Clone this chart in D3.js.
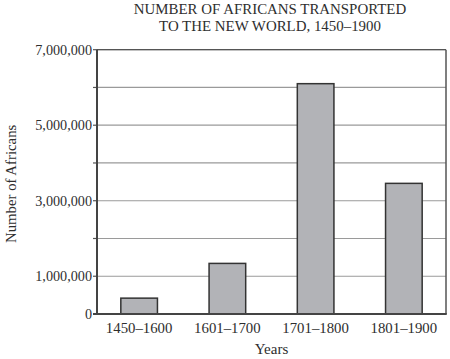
<!DOCTYPE html>
<html><head><meta charset="utf-8">
<script src="https://cdn.jsdelivr.net/npm/d3@7"></script>
<style>body{margin:0;background:#fff}svg{display:block}text{font-family:"Liberation Serif","Times New Roman",serif;fill:#2e2e2e}</style>
</head><body>
<script>
const categories = ["1450\u20131600","1601\u20131700","1701\u20131800","1801\u20131900"];
const values = [420000, 1340000, 6100000, 3460000];
const tickValues = [0,1000000,3000000,5000000,7000000];
const gridValues = [1000000,2000000,3000000,4000000,5000000,6000000,7000000];
const titleLines = ["NUMBER OF AFRICANS TRANSPORTED","TO THE NEW WORLD, 1450\u20131900"];

const W=450,H=359, L=97, R=446, T=49.7, B=314;
const svg=d3.select("body").append("svg").attr("width",W).attr("height",H);
const x=d3.scaleBand().domain(categories).range([L,R]).paddingInner(0.585).paddingOuter(0.27);
const y=d3.scaleLinear().domain([0,7000000]).range([B,T]);

// grid
svg.append("g").selectAll("line").data(gridValues).join("line")
 .attr("x1",L).attr("x2",R).attr("y1",d=>y(d)).attr("y2",d=>y(d))
 .attr("stroke","#9a9a9a").attr("stroke-width",1.2);
// left ticks for all grid levels
svg.append("g").selectAll("line").data([0].concat(gridValues)).join("line")
 .attr("x1",L-4).attr("x2",L).attr("y1",d=>y(d)).attr("y2",d=>y(d))
 .attr("stroke","#555").attr("stroke-width",1.2);
// right border
svg.append("line").attr("x1",R).attr("x2",R).attr("y1",T).attr("y2",B).attr("stroke","#555").attr("stroke-width",1.5);
// top border
svg.append("line").attr("x1",L).attr("x2",R).attr("y1",T).attr("y2",T).attr("stroke","#555").attr("stroke-width",1.2);

// bars
svg.append("g").selectAll("rect").data(values).join("rect")
 .attr("x",(d,i)=>x(categories[i])).attr("width",x.bandwidth())
 .attr("y",d=>y(d)).attr("height",d=>B-y(d))
 .attr("fill","#b2b3b7").attr("stroke","#333").attr("stroke-width",1.5);

// axes lines
svg.append("line").attr("x1",L).attr("x2",L).attr("y1",T).attr("y2",B).attr("stroke","#444").attr("stroke-width",2);
svg.append("line").attr("x1",L-4).attr("x2",R+0.75).attr("y1",B).attr("y2",B).attr("stroke","#444").attr("stroke-width",2);

// y tick labels
svg.append("g").selectAll("text").data(tickValues).join("text")
 .attr("x",L-5).attr("y",d=>y(d)).attr("dy","0.35em").attr("text-anchor","end")
 .attr("font-size",14.2).text(d=>d3.format(",")(d));

// x labels
svg.append("g").selectAll("text").data(categories).join("text")
 .attr("x",d=>x(d)+x.bandwidth()/2).attr("y",333).attr("text-anchor","middle")
 .attr("font-size",14.8).text(d=>d);

svg.append("text").attr("x",(L+R)/2).attr("y",354).attr("text-anchor","middle").attr("font-size",15).text("Years");
svg.append("text").attr("transform","translate(15.5,"+((T+B)/2+2)+") rotate(-90)").attr("text-anchor","middle").attr("font-size",14.8).text("Number of Africans");

svg.append("g").selectAll("text").data(titleLines).join("text")
 .attr("x",270).attr("y",(d,i)=>14+i*17).attr("text-anchor","middle").attr("font-size",14.9).text(d=>d);
</script>
</body></html>
